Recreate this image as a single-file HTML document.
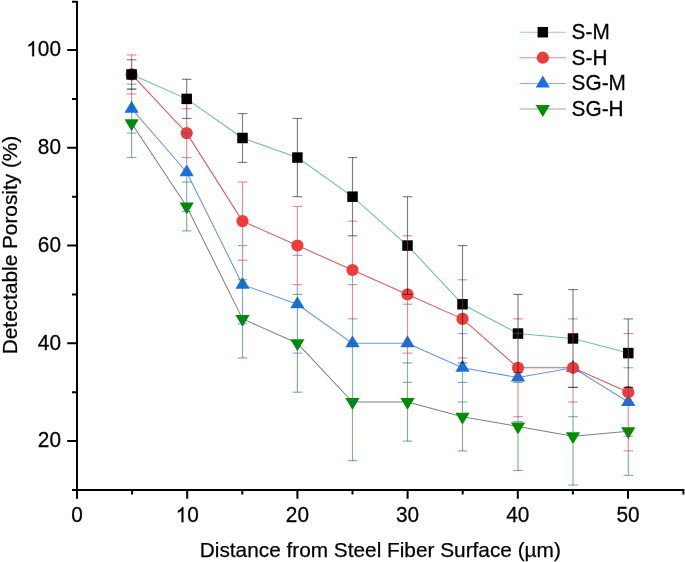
<!DOCTYPE html><html><head><meta charset="utf-8"><style>html,body{margin:0;padding:0;background:#fff;}svg{display:block;will-change:transform;}text{font-family:"Liberation Sans",sans-serif;stroke:#000;stroke-width:0.25px;}</style></head><body>
<svg width="685" height="562" viewBox="0 0 685 562">
<polyline points="131.60,123.33 186.70,206.44 242.50,318.89 297.40,343.33 352.50,402.00 407.50,402.00 462.50,416.67 518.00,426.44 573.00,436.22 628.30,431.33" fill="none" stroke="rgba(0,0,0,0.5)" stroke-width="1.05" stroke-linejoin="round"/>
<polyline points="131.60,108.67 186.70,172.22 242.50,284.67 297.40,304.22 352.50,343.33 407.50,343.33 462.50,367.78 518.00,377.56 573.00,367.78 628.30,402.00" fill="none" stroke="rgba(30,100,200,0.68)" stroke-width="1.05" stroke-linejoin="round"/>
<polyline points="131.60,74.44 186.70,133.11 242.50,221.11 297.40,245.56 352.50,270.00 407.50,294.44 462.50,318.89 518.00,367.78 573.00,367.78 628.30,392.22" fill="none" stroke="rgba(190,40,50,0.75)" stroke-width="1.05" stroke-linejoin="round"/>
<polyline points="131.60,74.44 186.70,98.89 242.50,138.00 297.40,157.55 352.50,196.67 407.50,245.56 462.50,304.22 518.00,333.56 573.00,338.44 628.30,353.11" fill="none" stroke="rgba(40,165,105,0.68)" stroke-width="1.05" stroke-linejoin="round"/>
<path d="M124.50 119.33L138.70 119.33L131.60 131.33Z" fill="#008c00"/>
<path d="M179.60 202.44L193.80 202.44L186.70 214.44Z" fill="#008c00"/>
<path d="M235.40 314.89L249.60 314.89L242.50 326.89Z" fill="#008c00"/>
<path d="M290.30 339.33L304.50 339.33L297.40 351.33Z" fill="#008c00"/>
<path d="M345.40 398.00L359.60 398.00L352.50 410.00Z" fill="#008c00"/>
<path d="M400.40 398.00L414.60 398.00L407.50 410.00Z" fill="#008c00"/>
<path d="M455.40 412.67L469.60 412.67L462.50 424.67Z" fill="#008c00"/>
<path d="M510.90 422.44L525.10 422.44L518.00 434.44Z" fill="#008c00"/>
<path d="M565.90 432.22L580.10 432.22L573.00 444.22Z" fill="#008c00"/>
<path d="M621.20 427.33L635.40 427.33L628.30 439.33Z" fill="#008c00"/>
<path d="M131.60 100.67L138.70 112.67L124.50 112.67Z" fill="#1a6fdc"/>
<path d="M186.70 164.22L193.80 176.22L179.60 176.22Z" fill="#1a6fdc"/>
<path d="M242.50 276.67L249.60 288.67L235.40 288.67Z" fill="#1a6fdc"/>
<path d="M297.40 296.22L304.50 308.22L290.30 308.22Z" fill="#1a6fdc"/>
<path d="M352.50 335.33L359.60 347.33L345.40 347.33Z" fill="#1a6fdc"/>
<path d="M407.50 335.33L414.60 347.33L400.40 347.33Z" fill="#1a6fdc"/>
<path d="M462.50 359.78L469.60 371.78L455.40 371.78Z" fill="#1a6fdc"/>
<path d="M518.00 369.56L525.10 381.56L510.90 381.56Z" fill="#1a6fdc"/>
<path d="M573.00 359.78L580.10 371.78L565.90 371.78Z" fill="#1a6fdc"/>
<path d="M628.30 394.00L635.40 406.00L621.20 406.00Z" fill="#1a6fdc"/>
<circle cx="131.60" cy="74.44" r="6.1" fill="#ee3c3c"/>
<circle cx="186.70" cy="133.11" r="6.1" fill="#ee3c3c"/>
<circle cx="242.50" cy="221.11" r="6.1" fill="#ee3c3c"/>
<circle cx="297.40" cy="245.56" r="6.1" fill="#ee3c3c"/>
<circle cx="352.50" cy="270.00" r="6.1" fill="#ee3c3c"/>
<circle cx="407.50" cy="294.44" r="6.1" fill="#ee3c3c"/>
<circle cx="462.50" cy="318.89" r="6.1" fill="#ee3c3c"/>
<circle cx="518.00" cy="367.78" r="6.1" fill="#ee3c3c"/>
<circle cx="573.00" cy="367.78" r="6.1" fill="#ee3c3c"/>
<circle cx="628.30" cy="392.22" r="6.1" fill="#ee3c3c"/>
<rect x="126.35" y="69.19" width="10.5" height="10.5" fill="#000000"/>
<rect x="181.45" y="93.64" width="10.5" height="10.5" fill="#000000"/>
<rect x="237.25" y="132.75" width="10.5" height="10.5" fill="#000000"/>
<rect x="292.15" y="152.30" width="10.5" height="10.5" fill="#000000"/>
<rect x="347.25" y="191.42" width="10.5" height="10.5" fill="#000000"/>
<rect x="402.25" y="240.31" width="10.5" height="10.5" fill="#000000"/>
<rect x="457.25" y="298.97" width="10.5" height="10.5" fill="#000000"/>
<rect x="512.75" y="328.31" width="10.5" height="10.5" fill="#000000"/>
<rect x="567.75" y="333.19" width="10.5" height="10.5" fill="#000000"/>
<rect x="623.05" y="347.86" width="10.5" height="10.5" fill="#000000"/>
<path d="M131.60 100.67V112.67M131.60 133.11V157.55" fill="none" stroke="#14781e" stroke-opacity="0.55" stroke-width="1.15"/>
<path d="M126.80 157.55H136.40" stroke="#14781e" stroke-opacity="0.55" stroke-width="1.15"/>
<path d="M131.60 94.00V100.67M131.60 112.67V133.11" fill="none" stroke="#2864af" stroke-opacity="0.55" stroke-width="1.15"/>
<path d="M126.80 84.22H136.40" stroke="#2864af" stroke-opacity="0.55" stroke-width="1.15"/>
<path d="M126.80 133.11H136.40" stroke="#2864af" stroke-opacity="0.55" stroke-width="1.15"/>
<path d="M131.60 54.89V59.78M131.60 89.11V94.00" fill="none" stroke="#cd323c" stroke-opacity="0.55" stroke-width="1.15"/>
<path d="M126.80 54.89H136.40" stroke="#cd323c" stroke-opacity="0.55" stroke-width="1.15"/>
<path d="M126.80 94.00H136.40" stroke="#cd323c" stroke-opacity="0.55" stroke-width="1.15"/>
<path d="M131.60 59.78V69.19M131.60 79.69V89.11" fill="none" stroke="#000000" stroke-opacity="0.5" stroke-width="1.15"/>
<path d="M126.80 59.78H136.40" stroke="#000000" stroke-opacity="0.5" stroke-width="1.15"/>
<path d="M126.80 89.11H136.40" stroke="#000000" stroke-opacity="0.72" stroke-width="1.15"/>
<path d="M186.70 214.44V230.89" fill="none" stroke="#14781e" stroke-opacity="0.55" stroke-width="1.15"/>
<path d="M181.90 182.00H191.50" stroke="#14781e" stroke-opacity="0.55" stroke-width="1.15"/>
<path d="M181.90 230.89H191.50" stroke="#14781e" stroke-opacity="0.55" stroke-width="1.15"/>
<path d="M186.70 133.11V139.21M186.70 157.55V164.22M186.70 176.22V211.33" fill="none" stroke="#2864af" stroke-opacity="0.55" stroke-width="1.15"/>
<path d="M181.90 133.11H191.50" stroke="#2864af" stroke-opacity="0.55" stroke-width="1.15"/>
<path d="M181.90 211.33H191.50" stroke="#2864af" stroke-opacity="0.55" stroke-width="1.15"/>
<path d="M186.70 118.44V127.01M186.70 139.21V157.55" fill="none" stroke="#cd323c" stroke-opacity="0.55" stroke-width="1.15"/>
<path d="M181.90 108.67H191.50" stroke="#cd323c" stroke-opacity="0.55" stroke-width="1.15"/>
<path d="M181.90 157.55H191.50" stroke="#cd323c" stroke-opacity="0.55" stroke-width="1.15"/>
<path d="M186.70 79.33V93.64M186.70 104.14V118.44" fill="none" stroke="#000000" stroke-opacity="0.5" stroke-width="1.15"/>
<path d="M181.90 79.33H191.50" stroke="#000000" stroke-opacity="0.5" stroke-width="1.15"/>
<path d="M181.90 118.44H191.50" stroke="#000000" stroke-opacity="0.5" stroke-width="1.15"/>
<path d="M242.50 279.78V288.67M242.50 326.89V358.00" fill="none" stroke="#14781e" stroke-opacity="0.55" stroke-width="1.15"/>
<path d="M237.70 279.78H247.30" stroke="#14781e" stroke-opacity="0.55" stroke-width="1.15"/>
<path d="M237.70 358.00H247.30" stroke="#14781e" stroke-opacity="0.55" stroke-width="1.15"/>
<path d="M242.50 260.22V276.67M242.50 288.67V323.78" fill="none" stroke="#2864af" stroke-opacity="0.55" stroke-width="1.15"/>
<path d="M237.70 245.56H247.30" stroke="#2864af" stroke-opacity="0.55" stroke-width="1.15"/>
<path d="M237.70 323.78H247.30" stroke="#2864af" stroke-opacity="0.55" stroke-width="1.15"/>
<path d="M242.50 182.00V215.01M242.50 227.21V260.22" fill="none" stroke="#cd323c" stroke-opacity="0.55" stroke-width="1.15"/>
<path d="M237.70 182.00H247.30" stroke="#cd323c" stroke-opacity="0.55" stroke-width="1.15"/>
<path d="M237.70 260.22H247.30" stroke="#cd323c" stroke-opacity="0.55" stroke-width="1.15"/>
<path d="M242.50 113.55V132.75M242.50 143.25V162.44" fill="none" stroke="#000000" stroke-opacity="0.5" stroke-width="1.15"/>
<path d="M237.70 113.55H247.30" stroke="#000000" stroke-opacity="0.5" stroke-width="1.15"/>
<path d="M237.70 162.44H247.30" stroke="#000000" stroke-opacity="0.5" stroke-width="1.15"/>
<path d="M297.40 296.22V308.22M297.40 353.11V392.22" fill="none" stroke="#14781e" stroke-opacity="0.55" stroke-width="1.15"/>
<path d="M292.60 294.44H302.20" stroke="#14781e" stroke-opacity="0.55" stroke-width="1.15"/>
<path d="M292.60 392.22H302.20" stroke="#14781e" stroke-opacity="0.55" stroke-width="1.15"/>
<path d="M297.40 284.67V296.22M297.40 308.22V353.11" fill="none" stroke="#2864af" stroke-opacity="0.55" stroke-width="1.15"/>
<path d="M292.60 255.33H302.20" stroke="#2864af" stroke-opacity="0.55" stroke-width="1.15"/>
<path d="M292.60 353.11H302.20" stroke="#2864af" stroke-opacity="0.55" stroke-width="1.15"/>
<path d="M297.40 206.44V239.46M297.40 251.66V284.67" fill="none" stroke="#cd323c" stroke-opacity="0.55" stroke-width="1.15"/>
<path d="M292.60 206.44H302.20" stroke="#cd323c" stroke-opacity="0.55" stroke-width="1.15"/>
<path d="M292.60 284.67H302.20" stroke="#cd323c" stroke-opacity="0.55" stroke-width="1.15"/>
<path d="M297.40 118.44V152.30M297.40 162.80V196.67" fill="none" stroke="#000000" stroke-opacity="0.5" stroke-width="1.15"/>
<path d="M292.60 118.44H302.20" stroke="#000000" stroke-opacity="0.5" stroke-width="1.15"/>
<path d="M292.60 196.67H302.20" stroke="#000000" stroke-opacity="0.5" stroke-width="1.15"/>
<path d="M352.50 343.33V347.33M352.50 410.00V460.67" fill="none" stroke="#14781e" stroke-opacity="0.55" stroke-width="1.15"/>
<path d="M347.70 343.33H357.30" stroke="#14781e" stroke-opacity="0.55" stroke-width="1.15"/>
<path d="M347.70 460.67H357.30" stroke="#14781e" stroke-opacity="0.55" stroke-width="1.15"/>
<path d="M352.50 318.89V335.33M352.50 347.33V402.00" fill="none" stroke="#2864af" stroke-opacity="0.55" stroke-width="1.15"/>
<path d="M347.70 284.67H357.30" stroke="#2864af" stroke-opacity="0.55" stroke-width="1.15"/>
<path d="M347.70 402.00H357.30" stroke="#2864af" stroke-opacity="0.55" stroke-width="1.15"/>
<path d="M352.50 235.78V263.90M352.50 276.10V318.89" fill="none" stroke="#cd323c" stroke-opacity="0.55" stroke-width="1.15"/>
<path d="M347.70 221.11H357.30" stroke="#cd323c" stroke-opacity="0.55" stroke-width="1.15"/>
<path d="M347.70 318.89H357.30" stroke="#cd323c" stroke-opacity="0.55" stroke-width="1.15"/>
<path d="M352.50 157.55V191.42M352.50 201.92V235.78" fill="none" stroke="#000000" stroke-opacity="0.5" stroke-width="1.15"/>
<path d="M347.70 157.55H357.30" stroke="#000000" stroke-opacity="0.5" stroke-width="1.15"/>
<path d="M347.70 235.78H357.30" stroke="#000000" stroke-opacity="0.5" stroke-width="1.15"/>
<path d="M407.50 382.44V398.00M407.50 410.00V441.11" fill="none" stroke="#14781e" stroke-opacity="0.55" stroke-width="1.15"/>
<path d="M402.70 362.89H412.30" stroke="#14781e" stroke-opacity="0.55" stroke-width="1.15"/>
<path d="M402.70 441.11H412.30" stroke="#14781e" stroke-opacity="0.55" stroke-width="1.15"/>
<path d="M407.50 353.11V382.44" fill="none" stroke="#2864af" stroke-opacity="0.55" stroke-width="1.15"/>
<path d="M402.70 304.22H412.30" stroke="#2864af" stroke-opacity="0.55" stroke-width="1.15"/>
<path d="M402.70 382.44H412.30" stroke="#2864af" stroke-opacity="0.55" stroke-width="1.15"/>
<path d="M407.50 240.31V250.81M407.50 300.54V353.11" fill="none" stroke="#cd323c" stroke-opacity="0.55" stroke-width="1.15"/>
<path d="M402.70 235.78H412.30" stroke="#cd323c" stroke-opacity="0.55" stroke-width="1.15"/>
<path d="M402.70 353.11H412.30" stroke="#cd323c" stroke-opacity="0.55" stroke-width="1.15"/>
<path d="M407.50 196.67V240.31M407.50 250.81V294.44" fill="none" stroke="#000000" stroke-opacity="0.5" stroke-width="1.15"/>
<path d="M402.70 196.67H412.30" stroke="#000000" stroke-opacity="0.5" stroke-width="1.15"/>
<path d="M402.70 294.44H412.30" stroke="#000000" stroke-opacity="0.5" stroke-width="1.15"/>
<path d="M462.50 402.00V412.67M462.50 424.67V450.89" fill="none" stroke="#14781e" stroke-opacity="0.55" stroke-width="1.15"/>
<path d="M457.70 382.44H467.30" stroke="#14781e" stroke-opacity="0.55" stroke-width="1.15"/>
<path d="M457.70 450.89H467.30" stroke="#14781e" stroke-opacity="0.55" stroke-width="1.15"/>
<path d="M462.50 371.78V402.00" fill="none" stroke="#2864af" stroke-opacity="0.55" stroke-width="1.15"/>
<path d="M457.70 333.56H467.30" stroke="#2864af" stroke-opacity="0.55" stroke-width="1.15"/>
<path d="M457.70 402.00H467.30" stroke="#2864af" stroke-opacity="0.55" stroke-width="1.15"/>
<path d="M462.50 298.97V309.47" fill="none" stroke="#cd323c" stroke-opacity="0.55" stroke-width="1.15"/>
<path d="M457.70 279.78H467.30" stroke="#cd323c" stroke-opacity="0.55" stroke-width="1.15"/>
<path d="M457.70 358.00H467.30" stroke="#cd323c" stroke-opacity="0.55" stroke-width="1.15"/>
<path d="M462.50 245.56V298.97M462.50 309.47V362.89" fill="none" stroke="#000000" stroke-opacity="0.5" stroke-width="1.15"/>
<path d="M457.70 245.56H467.30" stroke="#000000" stroke-opacity="0.5" stroke-width="1.15"/>
<path d="M457.70 362.89H467.30" stroke="#000000" stroke-opacity="0.5" stroke-width="1.15"/>
<path d="M518.00 421.56V422.44M518.00 434.44V470.44" fill="none" stroke="#14781e" stroke-opacity="0.55" stroke-width="1.15"/>
<path d="M513.20 382.44H522.80" stroke="#14781e" stroke-opacity="0.55" stroke-width="1.15"/>
<path d="M513.20 470.44H522.80" stroke="#14781e" stroke-opacity="0.55" stroke-width="1.15"/>
<path d="M518.00 416.67V421.56" fill="none" stroke="#2864af" stroke-opacity="0.55" stroke-width="1.15"/>
<path d="M513.20 333.56H522.80" stroke="#2864af" stroke-opacity="0.55" stroke-width="1.15"/>
<path d="M513.20 421.56H522.80" stroke="#2864af" stroke-opacity="0.55" stroke-width="1.15"/>
<path d="M518.00 328.31V338.81M518.00 373.88V416.67" fill="none" stroke="#cd323c" stroke-opacity="0.55" stroke-width="1.15"/>
<path d="M513.20 318.89H522.80" stroke="#cd323c" stroke-opacity="0.55" stroke-width="1.15"/>
<path d="M513.20 416.67H522.80" stroke="#cd323c" stroke-opacity="0.55" stroke-width="1.15"/>
<path d="M518.00 294.44V328.31M518.00 338.81V372.67" fill="none" stroke="#000000" stroke-opacity="0.5" stroke-width="1.15"/>
<path d="M513.20 294.44H522.80" stroke="#000000" stroke-opacity="0.5" stroke-width="1.15"/>
<path d="M513.20 372.67H522.80" stroke="#000000" stroke-opacity="0.5" stroke-width="1.15"/>
<path d="M573.00 416.67V432.22M573.00 444.22V485.11" fill="none" stroke="#14781e" stroke-opacity="0.55" stroke-width="1.15"/>
<path d="M568.20 485.11H577.80" stroke="#14781e" stroke-opacity="0.55" stroke-width="1.15"/>
<path d="M573.00 333.19V333.56M573.00 402.00V416.67" fill="none" stroke="#2864af" stroke-opacity="0.55" stroke-width="1.15"/>
<path d="M568.20 318.89H577.80" stroke="#2864af" stroke-opacity="0.55" stroke-width="1.15"/>
<path d="M568.20 416.67H577.80" stroke="#2864af" stroke-opacity="0.55" stroke-width="1.15"/>
<path d="M573.00 333.56V343.69M573.00 387.33V402.00" fill="none" stroke="#cd323c" stroke-opacity="0.55" stroke-width="1.15"/>
<path d="M568.20 333.56H577.80" stroke="#cd323c" stroke-opacity="0.55" stroke-width="1.15"/>
<path d="M568.20 402.00H577.80" stroke="#cd323c" stroke-opacity="0.55" stroke-width="1.15"/>
<path d="M573.00 289.56V333.19M573.00 343.69V387.33" fill="none" stroke="#000000" stroke-opacity="0.5" stroke-width="1.15"/>
<path d="M568.20 289.56H577.80" stroke="#000000" stroke-opacity="0.5" stroke-width="1.15"/>
<path d="M568.20 387.33H577.80" stroke="#000000" stroke-opacity="0.72" stroke-width="1.15"/>
<path d="M628.30 394.00V398.32M628.30 450.89V475.33" fill="none" stroke="#14781e" stroke-opacity="0.55" stroke-width="1.15"/>
<path d="M623.50 475.33H633.10" stroke="#14781e" stroke-opacity="0.55" stroke-width="1.15"/>
<path d="M628.30 387.33V394.00" fill="none" stroke="#2864af" stroke-opacity="0.55" stroke-width="1.15"/>
<path d="M623.50 367.78H633.10" stroke="#2864af" stroke-opacity="0.55" stroke-width="1.15"/>
<path d="M623.50 436.22H633.10" stroke="#2864af" stroke-opacity="0.55" stroke-width="1.15"/>
<path d="M628.30 347.86V358.36M628.30 398.32V450.89" fill="none" stroke="#cd323c" stroke-opacity="0.55" stroke-width="1.15"/>
<path d="M623.50 333.56H633.10" stroke="#cd323c" stroke-opacity="0.55" stroke-width="1.15"/>
<path d="M623.50 450.89H633.10" stroke="#cd323c" stroke-opacity="0.55" stroke-width="1.15"/>
<path d="M628.30 318.89V347.86M628.30 358.36V387.33" fill="none" stroke="#000000" stroke-opacity="0.5" stroke-width="1.15"/>
<path d="M623.50 318.89H633.10" stroke="#000000" stroke-opacity="0.5" stroke-width="1.15"/>
<path d="M623.50 387.33H633.10" stroke="#000000" stroke-opacity="0.72" stroke-width="1.15"/>
<path d="M77 0.9V498.8M72 490.1H684.4M67.2 441.11H77M72 392.22H77M67.2 343.33H77M72 294.44H77M67.2 245.56H77M72 196.67H77M67.2 147.78H77M72 98.89H77M67.2 50.00H77M72 1.80H77M132.10 490.1V494.50M187.20 490.1V498.80M242.30 490.1V494.50M297.40 490.1V498.80M352.50 490.1V494.50M407.60 490.1V498.80M462.70 490.1V494.50M517.80 490.1V498.80M572.90 490.1V494.50M628.00 490.1V498.80M683.40 490.1V494.50" stroke="#000" stroke-width="2" fill="none"/>
<text transform="translate(71.22,522.30) scale(1,1.065)" font-size="20.8">0</text>
<path transform="translate(175.63,522.30) scale(0.01016,-0.01036)" d="M763 0L583 0L583 1147Q518 1085 465 1054Q412 1023 359 992Q306 961 222 930L222 1104Q373 1175 429.5 1225.5Q486 1276 542.5 1326.5Q599 1377 646 1466L763 1466Z" stroke="#000" stroke-width="24"/><text transform="translate(187.20,522.30) scale(1,1.065)" font-size="20.8">0</text>
<text transform="translate(285.83,522.30) scale(1,1.065)" font-size="20.8">20</text>
<text transform="translate(396.03,522.30) scale(1,1.065)" font-size="20.8">30</text>
<text transform="translate(506.23,522.30) scale(1,1.065)" font-size="20.8">40</text>
<text transform="translate(616.43,522.30) scale(1,1.065)" font-size="20.8">50</text>
<text transform="translate(37.86,447.41) scale(1,1.065)" font-size="20.8">20</text>
<text transform="translate(37.86,349.63) scale(1,1.065)" font-size="20.8">40</text>
<text transform="translate(37.86,251.86) scale(1,1.065)" font-size="20.8">60</text>
<text transform="translate(37.86,154.08) scale(1,1.065)" font-size="20.8">80</text>
<path transform="translate(26.30,56.30) scale(0.01016,-0.01036)" d="M763 0L583 0L583 1147Q518 1085 465 1054Q412 1023 359 992Q306 961 222 930L222 1104Q373 1175 429.5 1225.5Q486 1276 542.5 1326.5Q599 1377 646 1466L763 1466Z" stroke="#000" stroke-width="24"/><text transform="translate(37.86,56.30) scale(1,1.065)" font-size="20.8">00</text>
<text transform="translate(380.30,557.00) scale(1,1.0)" font-size="20.8" text-anchor="middle">Distance from Steel Fiber Surface (µm)</text>
<text transform="translate(16.50,245.00) rotate(-90) scale(1,1.0)" font-size="20.8" text-anchor="middle">Detectable Porosity (%)</text>
<line x1="519.7" y1="32.2" x2="566" y2="32.2" stroke="rgba(40,165,105,0.68)" stroke-width="1.05" stroke-opacity="0.72"/>
<rect x="537.55" y="26.95" width="10.5" height="10.5" fill="#000000"/>
<text transform="translate(571.60,39.10) scale(1,1.065)" font-size="20.8">S-M</text>
<line x1="519.7" y1="57.7" x2="566" y2="57.7" stroke="rgba(190,40,50,0.75)" stroke-width="1.05" stroke-opacity="0.72"/>
<circle cx="542.80" cy="57.70" r="6.1" fill="#ee3c3c"/>
<text transform="translate(571.60,64.60) scale(1,1.065)" font-size="20.8">S-H</text>
<line x1="519.7" y1="83.4" x2="566" y2="83.4" stroke="rgba(30,100,200,0.68)" stroke-width="1.05" stroke-opacity="0.72"/>
<path d="M542.80 75.40L549.90 87.40L535.70 87.40Z" fill="#1a6fdc"/>
<text transform="translate(571.60,90.30) scale(1,1.065)" font-size="20.8">SG-M</text>
<line x1="519.7" y1="108.9" x2="566" y2="108.9" stroke="rgba(0,0,0,0.5)" stroke-width="1.05" stroke-opacity="0.72"/>
<path d="M535.70 104.90L549.90 104.90L542.80 116.90Z" fill="#008c00"/>
<text transform="translate(571.60,115.80) scale(1,1.065)" font-size="20.8">SG-H</text>
</svg></body></html>
